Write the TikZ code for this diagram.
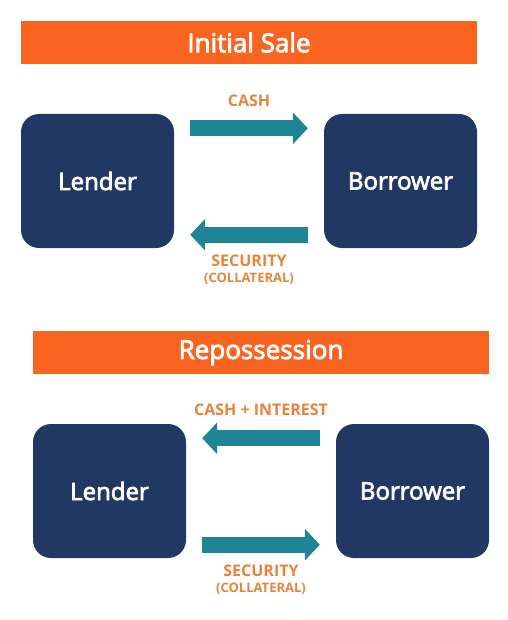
\documentclass[tikz,border=0pt]{standalone}
\usepackage{fontspec}
\setmainfont{Open Sans}
\newfontfamily\semib{Open Sans}[FakeBold=3]
\usetikzlibrary{arrows.meta}
\definecolor{bannerorange}{HTML}{F96420}
\definecolor{navy}{HTML}{213864}
\definecolor{teal}{HTML}{1F8595}
\definecolor{labelorange}{HTML}{E8833A}
\tikzset{
  banner/.style={fill=bannerorange, minimum width=456pt, minimum height=43pt, inner sep=0pt, text=white, font=\semib\fontsize{26}{28}\selectfont},
  party/.style={fill=navy, rounded corners=18pt, minimum width=153pt, minimum height=134pt, inner sep=0pt, text=white, font=\semib\fontsize{24}{26}\selectfont},
  flow/.style={draw=teal, line width=16pt, -{Triangle[length=15pt,width=31pt]}},
  lbl/.style={text=labelorange, inner sep=0pt, font=\bfseries\fontsize{16}{17}\selectfont},
  sublbl/.style={text=labelorange, inner sep=0pt, font=\bfseries\fontsize{13}{14}\selectfont}
}
\begin{document}
\begin{tikzpicture}[x=1pt,y=-1pt]
\useasboundingbox (0,0) rectangle (507,620);
% Section 1
\node[banner] (h1) at (249,42.5) {Initial Sale};
\node[party] (L1) at (97.5,181) {Lender};
\node[party] (B1) at (400.5,181) {Borrower};
\draw[flow] ([shift={(16,14.5)}]L1.north east) -- ([shift={(-16,14.5)}]B1.north west);
\draw[flow] ([shift={(-16,-13.5)}]B1.south west) -- ([shift={(16,-13.5)}]L1.south east);
\node[lbl] (c1) at (249,101) {CASH};
\node[lbl] (s1) at (249,261) {SECURITY};
\node[sublbl] (k1) at (249,278.5) {(COLLATERAL)};
% Section 2
\node[banner] (h2) at (261,352.5) {Repossession};
\node[party] (L2) at (109.5,491) {Lender};
\node[party] (B2) at (412.5,491) {Borrower};
\draw[flow] ([shift={(-16,14.5)}]B2.north west) -- ([shift={(16,14.5)}]L2.north east);
\draw[flow] ([shift={(16,-13.5)}]L2.south east) -- ([shift={(-16,-13.5)}]B2.south west);
\node[lbl] (c2) at (261,410) {CASH + INTEREST};
\node[lbl] (s2) at (261,571) {SECURITY};
\node[sublbl] (k2) at (261,588.5) {(COLLATERAL)};
\end{tikzpicture}
\end{document}
